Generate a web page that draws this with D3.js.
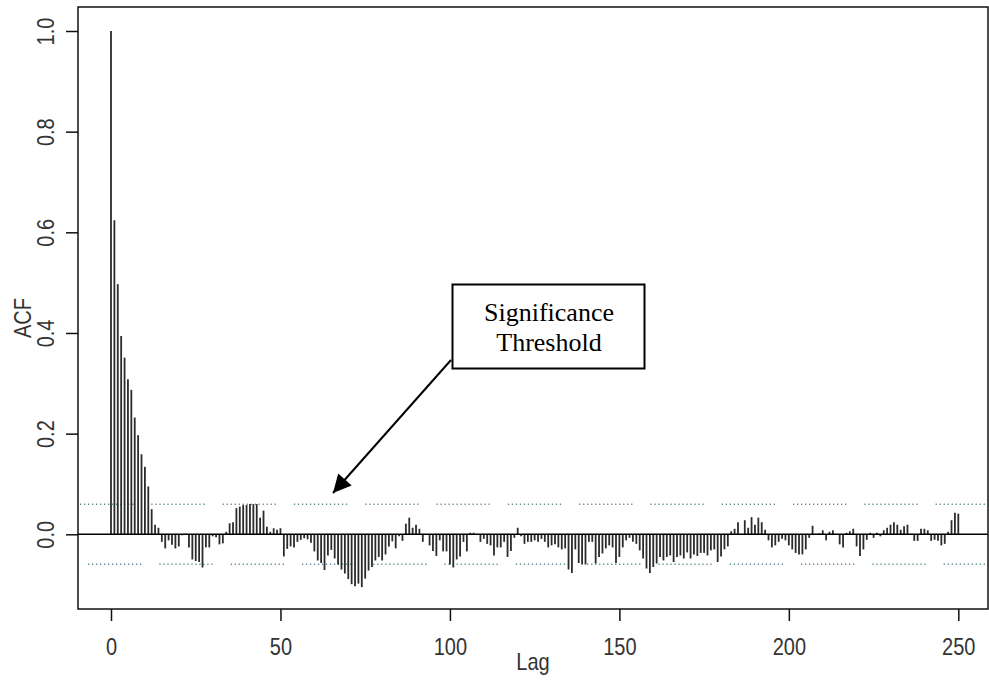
<!DOCTYPE html>
<html>
<head>
<meta charset="utf-8">
<script src="https://cdn.jsdelivr.net/npm/d3@7"></script>
<style>
  body { margin: 0; background: #fff; }
</style>
</head>
<body>
<div id="canvas"></div>
<script>
"use strict"

// ACF values, lag 0 .. 250
let acf = [
  1.000, 0.624, 0.497, 0.394, 0.351, 0.308, 0.287, 0.232, 0.197, 0.159,
  0.134, 0.095, 0.050, 0.019, 0.013, -0.015, -0.028, -0.012, -0.021, -0.028,
  -0.024, -0.002, 0.001, -0.026, -0.050, -0.053, -0.055, -0.066, -0.026, -0.026,
  -0.004, -0.006, -0.020, -0.018, 0.005, 0.022, 0.024, 0.052, 0.055, 0.058,
  0.058, 0.060, 0.060, 0.060, 0.033, 0.047, 0.015, 0.005, 0.012, 0.009,
  0.012, -0.044, -0.029, -0.024, -0.026, -0.015, -0.011, -0.008, -0.010, -0.017,
  -0.034, -0.052, -0.057, -0.071, -0.042, -0.031, -0.048, -0.060, -0.070, -0.078,
  -0.089, -0.099, -0.103, -0.098, -0.105, -0.088, -0.072, -0.065, -0.052, -0.045,
  -0.052, -0.040, -0.024, -0.014, -0.028, -0.004, -0.013, 0.021, 0.033, 0.013,
  0.019, 0.011, -0.015, -0.001, -0.022, -0.033, -0.043, -0.012, -0.034, -0.034,
  -0.060, -0.066, -0.050, -0.044, -0.015, -0.034, 0.003, 0.003, -0.001, -0.015,
  -0.009, -0.019, -0.022, -0.042, -0.026, -0.026, -0.015, -0.045, -0.033, -0.007,
  0.013, -0.004, -0.019, -0.015, -0.015, -0.012, -0.015, -0.009, -0.015, -0.026,
  -0.022, -0.020, -0.026, -0.030, -0.028, -0.070, -0.077, -0.030, -0.057, -0.060,
  -0.060, -0.015, -0.015, -0.058, -0.045, -0.038, -0.028, -0.022, -0.026, -0.057,
  -0.045, -0.026, -0.012, -0.007, -0.015, -0.019, -0.032, -0.048, -0.068, -0.077,
  -0.065, -0.058, -0.045, -0.052, -0.045, -0.042, -0.055, -0.045, -0.042, -0.048,
  -0.036, -0.048, -0.040, -0.043, -0.037, -0.037, -0.042, -0.032, -0.030, -0.055,
  -0.044, -0.030, -0.024, 0.006, 0.011, 0.024, 0.001, 0.028, 0.013, 0.034,
  0.019, 0.033, 0.024, 0.009, -0.012, -0.026, -0.022, -0.015, -0.009, -0.012,
  -0.022, -0.030, -0.037, -0.040, -0.040, -0.030, -0.007, 0.017, 0.001, 0.002,
  0.008, -0.012, 0.005, 0.008, 0.001, -0.020, -0.026, 0.003, 0.006, 0.011,
  -0.024, -0.043, -0.030, -0.011, 0.003, -0.007, 0.003, -0.004, 0.008, 0.013,
  0.019, 0.024, 0.019, 0.009, 0.016, 0.019, 0.001, -0.013, -0.013, 0.011,
  0.011, 0.008, -0.013, -0.011, -0.013, -0.022, -0.019, 0.005, 0.028, 0.043,
  0.041
];
let lags = acf.map((v, i) => i);

let xTicks = [0, 50, 100, 150, 200, 250];
let yTicks = [0.0, 0.2, 0.4, 0.6, 0.8, 1.0];
let threshold = 0.0595;
let noteLines = ["Significance", "Threshold"];

let drawing = d3.select("#canvas")
    .append("svg")
    .attr("width", 989)
    .attr("height", 686)
    .style("background", "#fff");

let x = d3.scaleLinear().domain([0, 250]).range([111, 958.3]);
let y = d3.scaleLinear().domain([0, 1]).range([534.3, 31]);

let font = "'Liberation Sans', Arial, sans-serif";

// significance lines (dotted dashes)
let dots = [];
for (let i = 0; i < 13; i++) dots.push(1.3, 2.7);
dots.push(1.3, 18);
[threshold, -threshold].forEach((t, i) => {
    drawing.append("line")
        .attr("x1", 80).attr("x2", 986)
        .attr("y1", y(t)).attr("y2", y(t))
        .attr("stroke", "#5e8e92")
        .attr("stroke-width", 1.5)
        .attr("stroke-dasharray", dots.join(","))
        .attr("stroke-dashoffset", i === 0 ? 0 : -8);
});

// bars
drawing.append("g")
    .selectAll("line")
    .data(lags)
    .join("line")
    .attr("x1", d => x(d)).attr("x2", d => x(d))
    .attr("y1", y(0))
    .attr("y2", d => y(acf[d]))
    .attr("stroke", "#2b2b2b")
    .attr("stroke-width", 1.8);

// zero line
drawing.append("line")
    .attr("x1", 78).attr("x2", 988)
    .attr("y1", y(0)).attr("y2", y(0))
    .attr("stroke", "#000")
    .attr("stroke-width", 1.5);

// frame
drawing.append("rect")
    .attr("x", 78).attr("y", 7)
    .attr("width", 910).attr("height", 602)
    .attr("fill", "none")
    .attr("stroke", "#111")
    .attr("stroke-width", 1.5);

// x axis
let xAxis = drawing.append("g")
    .attr("transform", "translate(0,609)")
    .call(d3.axisBottom(x).tickValues(xTicks).tickSize(12));
xAxis.select(".domain").remove();
xAxis.selectAll("line").attr("stroke", "#111").attr("stroke-width", 1.5);
xAxis.selectAll("text")
    .attr("y", 0).attr("dy", 0)
    .attr("transform", "translate(0,46) scale(1,1.2)")
    .attr("fill", "#333")
    .style("font-family", font)
    .style("font-size", "20px");

// y axis
let yAxis = drawing.append("g")
    .attr("transform", "translate(78,0)")
    .call(d3.axisLeft(y).tickValues(yTicks).tickSize(12).tickFormat(d3.format(".1f")));
yAxis.select(".domain").remove();
yAxis.selectAll("line").attr("stroke", "#111").attr("stroke-width", 1.5);
yAxis.selectAll("text")
    .attr("x", 0).attr("dy", 0)
    .attr("text-anchor", "middle")
    .attr("transform", "translate(-24,0) rotate(-90) scale(1,1.2)")
    .attr("fill", "#333")
    .style("font-family", font)
    .style("font-size", "20px");

// axis titles
drawing.append("text")
    .attr("transform", "translate(533,670) scale(1,1.2)")
    .attr("text-anchor", "middle")
    .attr("fill", "#333")
    .style("font-family", font)
    .style("font-size", "20px")
    .text("Lag");
drawing.append("text")
    .attr("transform", "translate(31,318) rotate(-90) scale(1,1.2)")
    .attr("text-anchor", "middle")
    .attr("fill", "#333")
    .style("font-family", font)
    .style("font-size", "20px")
    .text("ACF");

// annotation arrow
drawing.append("defs").append("marker")
    .attr("id", "head")
    .attr("viewBox", "0 0 10 10")
    .attr("refX", 10).attr("refY", 5)
    .attr("markerWidth", 22).attr("markerHeight", 18)
    .attr("markerUnits", "userSpaceOnUse")
    .attr("orient", "auto")
    .append("path")
    .attr("d", "M0,0 L10,5 L0,10 Z")
    .attr("fill", "#000");

drawing.append("line")
    .attr("x1", 451).attr("y1", 360)
    .attr("x2", 333).attr("y2", 493)
    .attr("stroke", "#000")
    .attr("stroke-width", 2)
    .attr("marker-end", "url(#head)");

// annotation box
drawing.append("rect")
    .attr("x", 452.5).attr("y", 284.5)
    .attr("width", 192).attr("height", 84)
    .attr("fill", "#fff")
    .attr("stroke", "#000")
    .attr("stroke-width", 2);

drawing.append("g")
    .selectAll("text")
    .data(noteLines)
    .join("text")
    .attr("x", 549)
    .attr("y", (d, i) => 321 + i * 30)
    .attr("text-anchor", "middle")
    .attr("fill", "#000")
    .style("font-family", "'Liberation Serif', 'Times New Roman', serif")
    .style("font-size", "26px")
    .text(d => d);
</script>
</body>
</html>
